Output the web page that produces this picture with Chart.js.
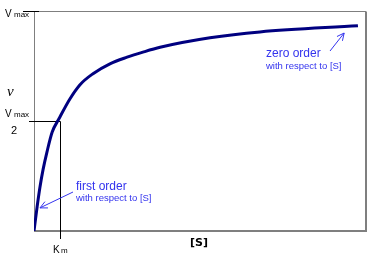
<!DOCTYPE html>
<html>
<head>
<meta charset="utf-8">
<script src="https://cdn.jsdelivr.net/npm/chart.js@4"></script>
<style>
  body { margin: 0; background: #fff; }
  #wrap { width: 376px; height: 263px; }
</style>
</head>
<body>
<div id="wrap"><canvas id="myChart" width="376" height="263"></canvas></div>
<script>
// [S] in units of Km, v in units of Vmax
const substrate = [0, 0.12, 0.23, 0.35, 0.5, 0.7, 0.96, 1.38, 1.77, 2.27, 2.92, 3.58, 4.19, 4.85, 6.77, 8.69, 12.46];
const velocity = [0, 0.11, 0.2, 0.28, 0.36, 0.45, 0.51, 0.6, 0.665, 0.715, 0.76, 0.79, 0.813, 0.835, 0.878, 0.905, 0.933];
const xMax = 12.77;
const kmValue = 1;
const vmaxValue = 1;
const axisTitles = ['v', '[S]'];
const kmLabel = ['K', 'm'];
const vmaxLabel = ['V', 'max'];
const orderNotes = [
    { title: 'first order', sub: 'with respect to [S]', at: [0.23, 0.105] },
    { title: 'zero order', sub: 'with respect to [S]', at: [11.93, 0.9] }
];

const blue = '#3333ee';

function arrow(ctx, x1, y1, x2, y2) {
    const a = Math.atan2(y2 - y1, x2 - x1);
    ctx.beginPath();
    ctx.moveTo(x1, y1);
    ctx.lineTo(x2, y2);
    ctx.moveTo(x2 - 8 * Math.cos(a - 0.45), y2 - 8 * Math.sin(a - 0.45));
    ctx.lineTo(x2, y2);
    ctx.lineTo(x2 - 8 * Math.cos(a + 0.45), y2 - 8 * Math.sin(a + 0.45));
    ctx.stroke();
}

function vmax(ctx, x, y) {
    ctx.fillStyle = '#000';
    ctx.textBaseline = 'alphabetic';
    ctx.textAlign = 'left';
    ctx.font = '10px "Liberation Sans"';
    ctx.fillText(vmaxLabel[0], x, y);
    ctx.font = '8px "Liberation Sans"';
    ctx.fillText(vmaxLabel[1], x + 9, y);
}

const decor = {
    id: 'decor',
    beforeDatasetsDraw(chart) {
        const { ctx, chartArea: a, scales } = chart;
        const xk = Math.round(scales.x.getPixelForValue(kmValue)) + 0.5;
        const yh = Math.round(scales.y.getPixelForValue(vmaxValue / 2)) + 0.5;
        const yt = Math.round(scales.y.getPixelForValue(vmaxValue)) + 0.5;
        ctx.save();
        // frame
        ctx.strokeStyle = '#7f7f7f';
        ctx.lineWidth = 1;
        ctx.beginPath();
        ctx.moveTo(a.left + 0.5, a.bottom);
        ctx.lineTo(a.left + 0.5, yt);
        ctx.lineTo(a.right, yt);
        ctx.stroke();
        ctx.lineWidth = 2;
        ctx.beginPath();
        ctx.moveTo(a.right, yt);
        ctx.lineTo(a.right, a.bottom);
        ctx.lineTo(a.left, a.bottom);
        ctx.stroke();
        // Vmax, Vmax/2 and Km guides
        ctx.strokeStyle = '#000';
        ctx.lineWidth = 1;
        ctx.beginPath();
        ctx.moveTo(23, yt);
        ctx.lineTo(a.left + 5, yt);
        ctx.moveTo(29, yh);
        ctx.lineTo(xk, yh);
        ctx.moveTo(xk, yh);
        ctx.lineTo(xk, a.bottom + 8);
        ctx.stroke();
        ctx.restore();
    },
    afterDraw(chart) {
        const { ctx, chartArea: a, scales } = chart;
        const xk = scales.x.getPixelForValue(kmValue);
        const yh = scales.y.getPixelForValue(vmaxValue / 2);
        const yt = scales.y.getPixelForValue(vmaxValue);
        ctx.save();
        vmax(ctx, 5, yt + 6);
        vmax(ctx, 5, yh - 4);
        ctx.font = '11px "Liberation Sans"';
        ctx.textAlign = 'center';
        ctx.fillText('2', 14, yh + 13);
        // v axis title
        ctx.font = 'italic 15px "Liberation Serif"';
        ctx.textAlign = 'left';
        ctx.fillText(axisTitles[0], 7, 96);
        // Km
        ctx.font = '10px "Liberation Sans"';
        ctx.fillText(kmLabel[0], xk - 7, a.bottom + 22);
        ctx.font = '8px "Liberation Sans"';
        ctx.fillText(kmLabel[1], xk + 1, a.bottom + 22);
        // [S]
        ctx.font = 'bold 11px "DejaVu Sans"';
        ctx.fillText(axisTitles[1], 190, a.bottom + 15);
        // order notes
        ctx.fillStyle = blue;
        ctx.strokeStyle = blue;
        ctx.lineWidth = 1;
        ctx.font = '12px "Liberation Sans"';
        ctx.fillText(orderNotes[0].title, 76, 190);
        ctx.fillText(orderNotes[1].title, 266, 57);
        ctx.font = '9.5px "Liberation Sans"';
        ctx.fillText(orderNotes[0].sub, 76, 201);
        ctx.fillText(orderNotes[1].sub, 266, 69);
        const n0 = orderNotes[0].at, n1 = orderNotes[1].at;
        arrow(ctx, 73, 192, scales.x.getPixelForValue(n0[0]), scales.y.getPixelForValue(n0[1]));
        arrow(ctx, 330, 51, scales.x.getPixelForValue(n1[0]), scales.y.getPixelForValue(n1[1]));
        ctx.restore();
    }
};

new Chart(document.getElementById('myChart'), {
    type: 'line',
    data: {
        datasets: [{
            data: substrate.map((s, i) => ({ x: s, y: velocity[i] })),
            borderColor: '#000080',
            borderWidth: 3,
            pointRadius: 0,
            cubicInterpolationMode: 'monotone',
            fill: false
        }]
    },
    options: {
        responsive: false,
        animation: false,
        devicePixelRatio: 1,
        layout: { padding: { left: 34, top: 11, right: 10, bottom: 32 } },
        scales: {
            x: { type: 'linear', min: 0, max: xMax, display: false },
            y: { type: 'linear', min: 0, max: vmaxValue, display: false }
        },
        plugins: {
            legend: { display: false },
            tooltip: { enabled: false }
        }
    },
    plugins: [decor]
});
</script>
</body>
</html>
